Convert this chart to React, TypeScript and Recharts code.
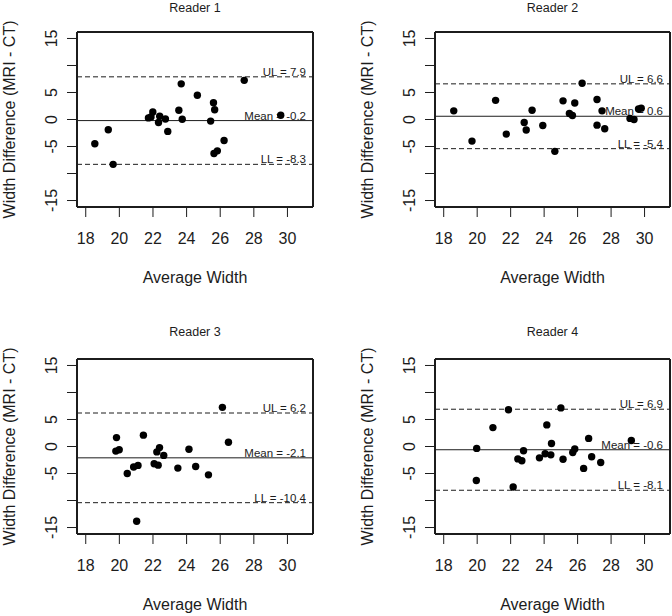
import React from 'react';
import { ScatterChart, Scatter, XAxis, YAxis, ReferenceLine } from 'recharts';

type Pt = { avg: number; diff: number };

const FONT = '"Liberation Sans", Arial, Helvetica, sans-serif';
const INK = '#1c1c1c';
const FRAME_W = 2;

const xTicks = [18, 20, 22, 24, 26, 28, 30];
const yTicks = [-15, -10, -5, 0, 5, 10, 15];
const yLabelled = [15, 5, 0, -5, -15];
// R's default 4% padding around xlim = c(18, 31), ylim = c(-15, 15)
const xDomain = [17.48, 31.52];
const yDomain = [-16.2, 16.2];

const readerNames = ['Reader 1', 'Reader 2', 'Reader 3', 'Reader 4'];
const means = [-0.2, 0.6, -2.1, -0.6];
const upperLimits = [7.9, 6.6, 6.2, 6.9];
const lowerLimits = [-8.3, -5.4, -10.4, -8.1];

const reader1: Pt[] = [
  { avg: 18.54, diff: -4.5 }, { avg: 19.34, diff: -1.9 }, { avg: 19.63, diff: -8.3 },
  { avg: 21.73, diff: 0.3 }, { avg: 21.88, diff: 0.45 }, { avg: 21.99, diff: 1.4 },
  { avg: 22.33, diff: -0.55 }, { avg: 22.4, diff: 0.6 }, { avg: 22.74, diff: 0.1 },
  { avg: 22.88, diff: -2.2 }, { avg: 23.54, diff: 1.7 }, { avg: 23.68, diff: 6.6 },
  { avg: 23.74, diff: 0.05 }, { avg: 24.64, diff: 4.5 }, { avg: 25.43, diff: -0.3 },
  { avg: 25.6, diff: 3.1 }, { avg: 25.67, diff: 1.8 }, { avg: 25.63, diff: -6.3 },
  { avg: 25.83, diff: -5.8 }, { avg: 26.23, diff: -3.9 }, { avg: 27.43, diff: 7.25 },
  { avg: 29.6, diff: 0.8 },
];

const reader2: Pt[] = [
  { avg: 18.6, diff: 1.6 }, { avg: 19.69, diff: -4.0 }, { avg: 21.1, diff: 3.55 },
  { avg: 21.74, diff: -2.7 }, { avg: 22.81, diff: -0.55 }, { avg: 22.93, diff: -1.95 },
  { avg: 23.28, diff: 1.7 }, { avg: 23.92, diff: -1.1 }, { avg: 24.64, diff: -5.9 },
  { avg: 25.13, diff: 3.45 }, { avg: 25.51, diff: 1.1 }, { avg: 25.69, diff: 0.75 },
  { avg: 25.83, diff: 3.05 }, { avg: 26.27, diff: 6.7 }, { avg: 27.16, diff: 3.7 },
  { avg: 27.16, diff: -1.05 }, { avg: 27.46, diff: 1.6 }, { avg: 27.62, diff: -1.7 },
  { avg: 29.13, diff: 0.2 }, { avg: 29.37, diff: 0.0 }, { avg: 29.64, diff: 1.95 },
  { avg: 29.8, diff: 2.1 },
];

const reader3: Pt[] = [
  { avg: 19.79, diff: -0.85 }, { avg: 19.83, diff: 1.65 }, { avg: 19.99, diff: -0.6 },
  { avg: 20.47, diff: -5.0 }, { avg: 20.85, diff: -3.8 }, { avg: 21.11, diff: -3.5 },
  { avg: 21.03, diff: -13.85 }, { avg: 21.43, diff: 2.1 }, { avg: 22.07, diff: -3.2 },
  { avg: 22.23, diff: -1.0 }, { avg: 22.31, diff: -3.45 }, { avg: 22.39, diff: -0.2 },
  { avg: 22.64, diff: -1.65 }, { avg: 23.48, diff: -4.0 }, { avg: 24.14, diff: -0.5 },
  { avg: 24.54, diff: -3.7 }, { avg: 25.3, diff: -5.25 }, { avg: 26.13, diff: 7.25 },
  { avg: 26.49, diff: 0.8 },
];

const reader4: Pt[] = [
  { avg: 19.97, diff: -0.35 }, { avg: 19.95, diff: -6.3 }, { avg: 20.94, diff: 3.5 },
  { avg: 21.87, diff: 6.8 }, { avg: 22.15, diff: -7.5 }, { avg: 22.43, diff: -2.3 },
  { avg: 22.67, diff: -2.65 }, { avg: 22.77, diff: -0.8 }, { avg: 23.72, diff: -2.1 },
  { avg: 24.06, diff: -1.35 }, { avg: 24.16, diff: 4.0 }, { avg: 24.4, diff: -1.55 },
  { avg: 24.44, diff: 0.55 }, { avg: 25.0, diff: 7.15 }, { avg: 25.13, diff: -2.35 },
  { avg: 25.71, diff: -1.1 }, { avg: 25.83, diff: -0.45 }, { avg: 26.36, diff: -4.05 },
  { avg: 26.66, diff: 1.5 }, { avg: 26.84, diff: -1.9 }, { avg: 27.38, diff: -2.95 },
  { avg: 29.21, diff: 1.1 },
];

const readers = [reader1, reader2, reader3, reader4];

const CHART_W = 336;
const CHART_H = 308;

// where each panel sits on the page and how big its margins are
const panels = [
  { left: 0, top: 0, yAxisW: 77, right: 23, marginTop: 32, xAxisH: 101, titleGap: 24.7 },
  { left: 336, top: 0, yAxisW: 99, right: 2, marginTop: 32, xAxisH: 101, titleGap: 24.7 },
  { left: 0, top: 308, yAxisW: 77, right: 23, marginTop: 51, xAxisH: 82, titleGap: 27.4 },
  { left: 336, top: 308, yAxisW: 99, right: 2, marginTop: 51, xAxisH: 82, titleGap: 27.4 },
];

const XTick = ({ x, y, payload }: any) => (
  <text x={x} y={y + 27} textAnchor="middle" fontSize={16} fill={INK} fontFamily={FONT}>
    {payload.value}
  </text>
);

const YTick = ({ x, y, payload }: any) =>
  yLabelled.includes(payload.value) ? (
    <text
      transform={`translate(${x - 16},${y}) rotate(-90)`}
      textAnchor="middle"
      dy="0.36em"
      fontSize={16}
      fill={INK}
      fontFamily={FONT}
    >
      {payload.value}
    </text>
  ) : (
    <g />
  );

function limitLine(text: string, dashed: boolean) {
  return (p: any) => (
    <g>
      <line
        x1={p.x1} y1={p.y1} x2={p.x2} y2={p.y2}
        stroke={INK} strokeWidth={1}
        strokeDasharray={dashed ? '5 3' : undefined}
      />
      <text
        x={Math.max(p.x1, p.x2) - 7}
        y={p.y1 - 1}
        textAnchor="end"
        fontSize={11.5}
        fill={INK}
        fontFamily={FONT}
      >
        {text}
      </text>
    </g>
  );
}

// top edge of the frame, carrying the panel title above it
function topEdge(title: string, gap: number) {
  return (p: any) => (
    <g>
      <line x1={p.x1} y1={p.y1} x2={p.x2} y2={p.y2} stroke={INK} strokeWidth={FRAME_W} />
      <text
        x={(p.x1 + p.x2) / 2}
        y={p.y1 - gap + 4.5}
        textAnchor="middle"
        fontSize={12.5}
        fill={INK}
        fontFamily={FONT}
      >
        {title}
      </text>
    </g>
  );
}

const dot = (p: any) => <circle cx={p.cx} cy={p.cy} r={3.7} fill="#000" />;

function Panel({ i }: { i: number }) {
  const l = panels[i];
  return (
    <div style={{ position: 'absolute', left: l.left, top: l.top, width: CHART_W, height: CHART_H }}>
      <ScatterChart
        width={CHART_W}
        height={CHART_H}
        margin={{ top: l.marginTop, right: l.right, bottom: 0, left: 0 }}
      >
        <XAxis
          type="number"
          dataKey="avg"
          domain={xDomain}
          ticks={xTicks}
          stroke={INK}
          axisLine={{ stroke: INK, strokeWidth: FRAME_W }}
          tickLine={{ stroke: INK }}
          tickSize={10}
          tickMargin={0}
          height={l.xAxisH}
          tick={<XTick />}
          label={{
            content: (p: any) => (
              <text
                x={p.viewBox.x + p.viewBox.width / 2}
                y={p.viewBox.y + 75.5}
                textAnchor="middle"
                fontSize={16}
                fill={INK}
                fontFamily={FONT}
              >
                Average Width
              </text>
            ),
          }}
        />
        <YAxis
          type="number"
          dataKey="diff"
          domain={yDomain}
          ticks={yTicks}
          stroke={INK}
          axisLine={{ stroke: INK, strokeWidth: FRAME_W }}
          tickLine={{ stroke: INK }}
          tickSize={10}
          tickMargin={0}
          width={l.yAxisW}
          tick={<YTick />}
          label={{
            content: (p: any) => {
              const cx = p.viewBox.x + p.viewBox.width - 67.5;
              const cy = p.viewBox.y + p.viewBox.height / 2;
              return (
                <text
                  transform={`translate(${cx},${cy}) rotate(-90)`}
                  textAnchor="middle"
                  dy="0.36em"
                  fontSize={16}
                  fill={INK}
                  fontFamily={FONT}
                >
                  Width Difference (MRI - CT)
                </text>
              );
            },
          }}
        />
        <ReferenceLine
          y={yDomain[1]}
          ifOverflow="visible"
          shape={topEdge(readerNames[i], l.titleGap)}
        />
        <ReferenceLine x={xDomain[1]} ifOverflow="visible" stroke={INK} strokeWidth={FRAME_W} />
        <ReferenceLine y={upperLimits[i]} shape={limitLine(`UL = ${upperLimits[i]}`, true)} />
        <ReferenceLine y={means[i]} shape={limitLine(`Mean = ${means[i]}`, false)} />
        <ReferenceLine y={lowerLimits[i]} shape={limitLine(`LL = ${lowerLimits[i]}`, true)} />
        <Scatter data={readers[i]} shape={dot} isAnimationActive={false} />
      </ScatterChart>
    </div>
  );
}

export default function App() {
  return (
    <div
      style={{
        position: 'absolute',
        left: 0,
        top: 0,
        width: 672,
        height: 616,
        background: '#fff',
        fontFamily: FONT,
      }}
    >
      {readerNames.map((_, i) => (
        <Panel key={i} i={i} />
      ))}
    </div>
  );
}
